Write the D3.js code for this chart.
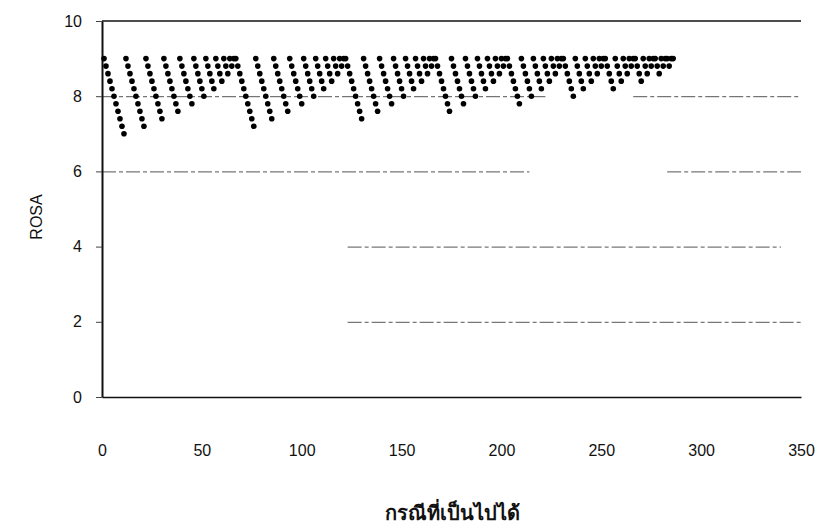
<!DOCTYPE html>
<html>
<head>
<meta charset="utf-8">
<script src="https://cdn.jsdelivr.net/npm/d3@7"></script>
<style>
  html, body { margin: 0; padding: 0; background: #fff; }
  svg { display: block; }
</style>
</head>
<body>
<div id="chart"></div>
<script>
// ROSA score of every possible case, in case order (case 1, 2, 3, ...).
// Each line is one block of cases; each run starts again at 9.
const rosaScores = [
  // block 1
  9,8.8,8.6,8.4,8.2,8,7.8,7.6,7.4,7.2,7, 9,8.8,8.6,8.4,8.2,8,7.8,7.6,7.4,7.2, 9,8.8,8.6,8.4,8.2,8,7.8,7.6,7.4,
  9,8.8,8.6,8.4,8.2,8,7.8,7.6, 9,8.8,8.6,8.4,8.2,8,7.8, 9,8.8,8.6,8.4,8.2,8, 9,8.8,8.6,8.4,8.2, 9,8.8,8.6,8.4, 9,8.8,8.6, 9,8.8, 9,
  // block 2
  9,8.8,8.6,8.4,8.2,8,7.8,7.6,7.4,7.2, 9,8.8,8.6,8.4,8.2,8,7.8,7.6,7.4, 9,8.8,8.6,8.4,8.2,8,7.8,7.6,
  9,8.8,8.6,8.4,8.2,8,7.8, 9,8.8,8.6,8.4,8.2,8, 9,8.8,8.6,8.4,8.2, 9,8.8,8.6,8.4, 9,8.8,8.6, 9,8.8, 9,
  // block 3
  9,8.8,8.6,8.4,8.2,8,7.8,7.6,7.4, 9,8.8,8.6,8.4,8.2,8,7.8,7.6, 9,8.8,8.6,8.4,8.2,8,7.8,
  9,8.8,8.6,8.4,8.2,8, 9,8.8,8.6,8.4,8.2, 9,8.8,8.6,8.4, 9,8.8,8.6, 9,8.8, 9,
  // block 4
  9,8.8,8.6,8.4,8.2,8,7.8,7.6, 9,8.8,8.6,8.4,8.2,8,7.8, 9,8.8,8.6,8.4,8.2,8,
  9,8.8,8.6,8.4,8.2, 9,8.8,8.6,8.4, 9,8.8,8.6, 9,8.8, 9,
  // block 5
  9,8.8,8.6,8.4,8.2,8,7.8, 9,8.8,8.6,8.4,8.2,8, 9,8.8,8.6,8.4,8.2, 9,8.8,8.6,8.4, 9,8.8,8.6, 9,8.8, 9,
  // block 6
  9,8.8,8.6,8.4,8.2,8, 9,8.8,8.6,8.4,8.2, 9,8.8,8.6,8.4, 9,8.8,8.6, 9,8.8, 9,
  // block 7
  9,8.8,8.6,8.4,8.2, 9,8.8,8.6,8.4, 9,8.8,8.6, 9,8.8, 9,
  // block 8
  9,8.8,8.6,8.4, 9,8.8,8.6, 9,8.8, 9,
  // block 9
  9,8.8,8.6, 9,8.8, 9,
  // block 10
  9,8.8, 9,
  // block 11
  9
];

const xTicks = [0, 50, 100, 150, 200, 250, 300, 350];
const yTicks = [0, 2, 4, 6, 8, 10];

// Horizontal reference lines: level and the stretches (case numbers) they cover
const gridLevels   = [8, 8, 6, 6, 4, 2];
const gridStarts   = [0, 266, 0, 283, 123, 123];
const gridEnds     = [222, 350, 214, 350, 340, 350];

const xTitle = "กรณีที่เป็นไปได้";
const yTitle = "ROSA";

const W = 821, H = 532;
const svg = d3.select("#chart").append("svg")
  .attr("width", W).attr("height", H);

const x = d3.scaleLinear().domain([0, 350]).range([102, 801]);
const y = d3.scaleLinear().domain([0, 10]).range([397, 21]);

const font = "'Liberation Sans', Arial, sans-serif";

// reference lines
svg.append("g").selectAll("line")
  .data(gridLevels.map((v, i) => ({ v, a: gridStarts[i], b: gridEnds[i] })))
  .join("line")
  .attr("x1", d => x(d.a)).attr("x2", d => x(d.b))
  .attr("y1", d => y(d.v) + 0.5).attr("y2", d => y(d.v) + 0.5)
  .attr("stroke", "#555")
  .attr("stroke-width", 1)
  .attr("stroke-dasharray", "14,3,4,3");

// frame top edge
svg.append("line")
  .attr("x1", x(0)).attr("x2", x(350))
  .attr("y1", y(10)).attr("y2", y(10))
  .attr("stroke", "#111").attr("stroke-width", 1.5);

// y axis
const yAxis = svg.append("g")
  .attr("transform", `translate(${x(0)},0)`)
  .call(d3.axisLeft(y).tickValues(yTicks).tickSize(6).tickSizeOuter(0).tickPadding(14));
yAxis.select(".domain").attr("stroke", "#111").attr("stroke-width", 2);
yAxis.selectAll(".tick line").attr("stroke", "#444");
yAxis.selectAll("text")
  .attr("font-family", font).attr("font-size", 16).attr("fill", "#111");

// x axis
const xAxis = svg.append("g")
  .attr("transform", `translate(0,${y(0)})`)
  .call(d3.axisBottom(x).tickValues(xTicks).tickSize(0).tickSizeOuter(0).tickPadding(48));
xAxis.select(".domain").attr("stroke", "#111").attr("stroke-width", 1.5);
xAxis.selectAll("text")
  .attr("font-family", font).attr("font-size", 16).attr("fill", "#111");

// points
svg.append("g").selectAll("circle")
  .data(rosaScores.map((v, i) => ({ c: i + 1, v })))
  .join("circle")
  .attr("cx", d => x(d.c))
  .attr("cy", d => y(d.v))
  .attr("r", 2.8)
  .attr("fill", "#000");

// axis titles
svg.append("text")
  .attr("transform", `translate(42,${(y(0) + y(10)) / 2 + 8}) rotate(-90)`)
  .attr("text-anchor", "middle")
  .attr("font-family", font).attr("font-size", 16).attr("fill", "#111")
  .text(yTitle);

svg.append("text")
  .attr("x", 452).attr("y", 520)
  .attr("text-anchor", "middle")
  .attr("font-family", font).attr("font-size", 20).attr("font-weight", "bold").attr("fill", "#111")
  .text(xTitle);
</script>
</body>
</html>
